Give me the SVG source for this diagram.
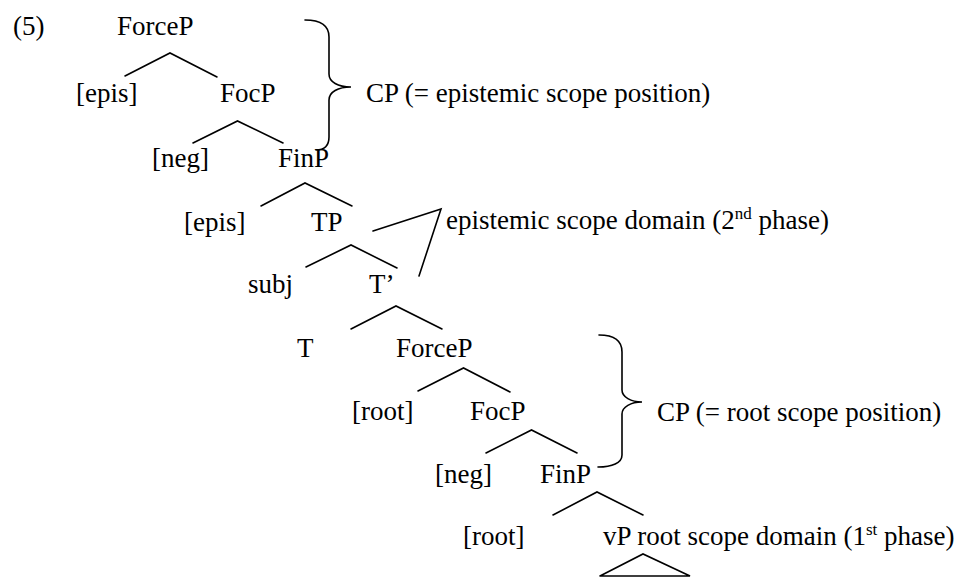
<svg xmlns="http://www.w3.org/2000/svg" width="965" height="577" viewBox="0 0 965 577">
<style>
text{font-family:"Liberation Serif","Times New Roman",serif;font-size:27px;fill:#000}
.sup{font-size:17px}
.ln{stroke:#000;stroke-width:1.6;fill:none;stroke-linecap:round;stroke-linejoin:miter}
</style>
<rect width="965" height="577" fill="#fff"/>
<g id="connectors">
<polyline class="ln" points="125,76 170,53 217,77"/>
<polyline class="ln" points="193,143 237.5,121 283,143"/>
<polyline class="ln" points="261,206 305,183 352,206"/>
<polyline class="ln" points="306,267 351,245 397,268"/>
<polyline class="ln" points="351,329 396,306 442,329"/>
<polyline class="ln" points="418,391 463.5,368 510,392"/>
<polyline class="ln" points="486,453 531.5,430 577,453"/>
<polyline class="ln" points="553,515 597,492 643,515"/>
<polyline class="ln" points="600,576 643,554 690,576 600,576"/>
<polyline id="epis-domain" class="ln" points="373,231 441,209 419,276"/>
<path id="brace1" class="ln" d="M305,20 C320,20 329,25 329,37 L329,74 C329,82 338,87 351,87 C338,87 329,92 329,100 L329,137 C329,145 325,150 316,150"/>
<path id="brace2" class="ln" d="M599,335 C614,335 622,340 622,352 L622,390 C622,397 631,402 642,402 C631,402 622,407 622,414 L622,455 C622,463 612,467 598,467"/>
</g>
<g id="label-5"><text x="13" y="35">(5)</text></g>
<g id="n-forcep1"><text x="117" y="35">ForceP</text></g>
<g id="n-epis1"><text x="76" y="102">[epis]</text></g>
<g id="n-focp1"><text x="220" y="102">FocP</text></g>
<g id="n-neg1"><text x="152" y="167">[neg]</text></g>
<g id="n-finp1"><text x="278" y="167">FinP</text></g>
<g id="n-epis2"><text x="184" y="231">[epis]</text></g>
<g id="n-tp"><text x="311" y="231">TP</text></g>
<g id="n-subj"><text x="248" y="293">subj</text></g>
<g id="n-tbar"><text x="369" y="293">T’</text></g>
<g id="n-t"><text x="297" y="357">T</text></g>
<g id="n-forcep2"><text x="396" y="357">ForceP</text></g>
<g id="n-root1"><text x="352" y="420">[root]</text></g>
<g id="n-focp2"><text x="470" y="420">FocP</text></g>
<g id="n-neg2"><text x="435" y="483">[neg]</text></g>
<g id="n-finp2"><text x="540" y="483">FinP</text></g>
<g id="n-root2"><text x="463" y="545">[root]</text></g>
<g id="n-vp"><text x="603" y="545">vP root scope domain (1<tspan class="sup" dy="-10">st</tspan><tspan dy="10"> phase)</tspan></text></g>
<g id="cp-epis"><text x="366" y="102">CP (= epistemic scope position)</text></g>
<g id="epis-label"><text x="446" y="229">epistemic scope domain (2<tspan class="sup" dy="-10">nd</tspan><tspan dy="10"> phase)</tspan></text></g>
<g id="cp-root"><text x="657" y="421">CP (= root scope position)</text></g>
</svg>
